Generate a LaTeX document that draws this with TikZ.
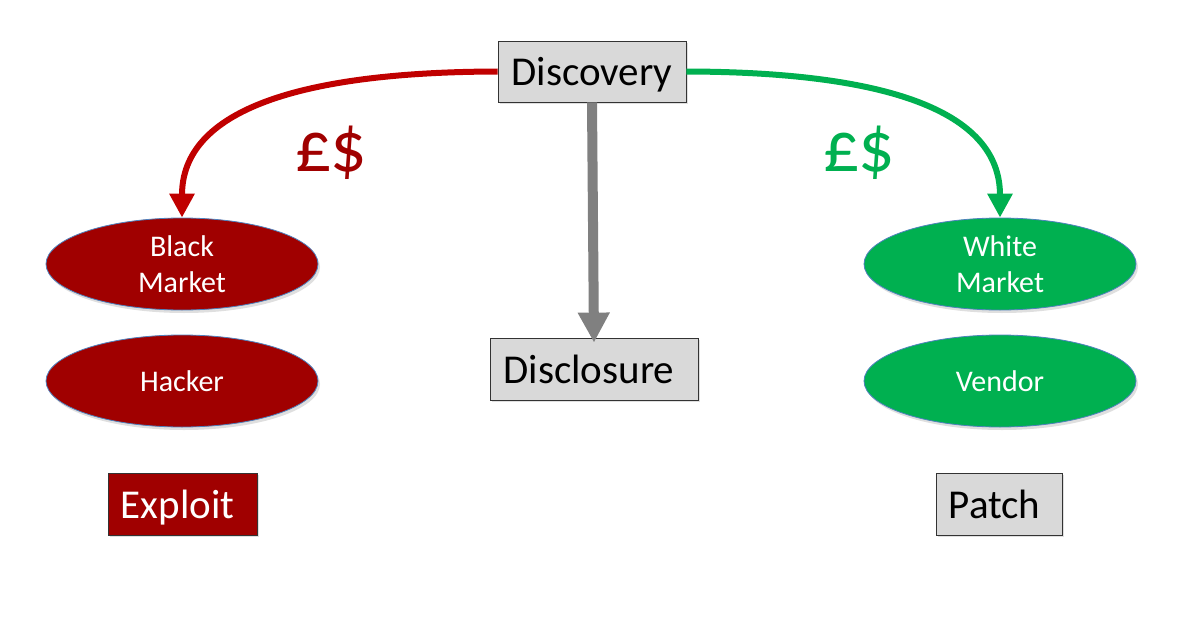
\documentclass[tikz,border=0pt]{standalone}
\usepackage{fontspec}
\setmainfont{Carlito}
\usetikzlibrary{shapes.geometric,arrows.meta,shadows}
\definecolor{boxgray}{HTML}{D9D9D9}
\definecolor{dred}{HTML}{A00000}
\definecolor{ared}{HTML}{C00000}
\definecolor{agreen}{HTML}{00B050}
\definecolor{edgeblue}{HTML}{4F81BD}
\tikzset{
  boxbase/.style={draw=black!80, line width=0.8pt, font=\fontsize{41}{44}\selectfont, inner sep=0pt,
    text height=31pt, text depth=3pt,
    drop shadow={shadow xshift=2pt, shadow yshift=-2pt, opacity=0.25}},
  graybox/.style={boxbase, fill=boxgray},
  redbox/.style={boxbase, fill=dred, text=white},
  oval/.style={ellipse, draw=edgeblue, line width=0.8pt, minimum width=272pt, minimum height=92pt, inner sep=0pt,
    text=white, font=\fontsize{30}{36}\selectfont, align=center,
    drop shadow={shadow xshift=2pt, shadow yshift=-3pt, opacity=0.25}},
  redoval/.style={oval, fill=dred},
  greenoval/.style={oval, fill=agreen},
  curvearrow/.style={line width=6pt, -{Triangle[length=24pt, width=24pt]}},
  money/.style={font=\fontsize{72}{72}\selectfont, inner sep=0pt}
}
\begin{document}
\begin{tikzpicture}[x=1pt, y=-1pt]
\useasboundingbox (0,0) rectangle (1202,618);
\node[graybox, minimum width=188pt, minimum height=61pt] (disc) at (592,71.5) {Discovery};
\node[graybox, minimum width=208pt, minimum height=62pt] (discl) at (594,369) {\hspace{-10pt}Disclosure};
\node[redoval] (bm) at (182,264) {Black\\Market};
\node[redoval] (hk) at (182,381) {Hacker};
\node[greenoval] (wm) at (1000,264) {White\\Market};
\node[greenoval] (vd) at (1000,381) {Vendor};
\node[redbox, minimum width=149pt, minimum height=62pt] (exp) at (182.5,504) {\hspace{-10pt}Exploit};
\node[graybox, minimum width=126pt, minimum height=62pt] (pat) at (999,504) {\hspace{-9pt}Patch};
\node[money, text=dred] (lm) at (331,153) {£\kern-2pt\$};
\node[money, text=agreen] (rm) at (859,153) {£\kern-2pt\$};
% gray arrow
\draw[line width=10pt, draw=black!50, -{Triangle[length=30pt, width=30pt]}] (disc.south) -- ([yshift=-5pt]discl.north);
% red curved arrow
\draw[curvearrow, draw=ared] (disc.west) .. controls (300,72) and (182,110) .. (bm.north);
% green curved arrow
\draw[curvearrow, draw=agreen] (disc.east) .. controls (884,72) and (1000,110) .. (wm.north);
\end{tikzpicture}
\end{document}
